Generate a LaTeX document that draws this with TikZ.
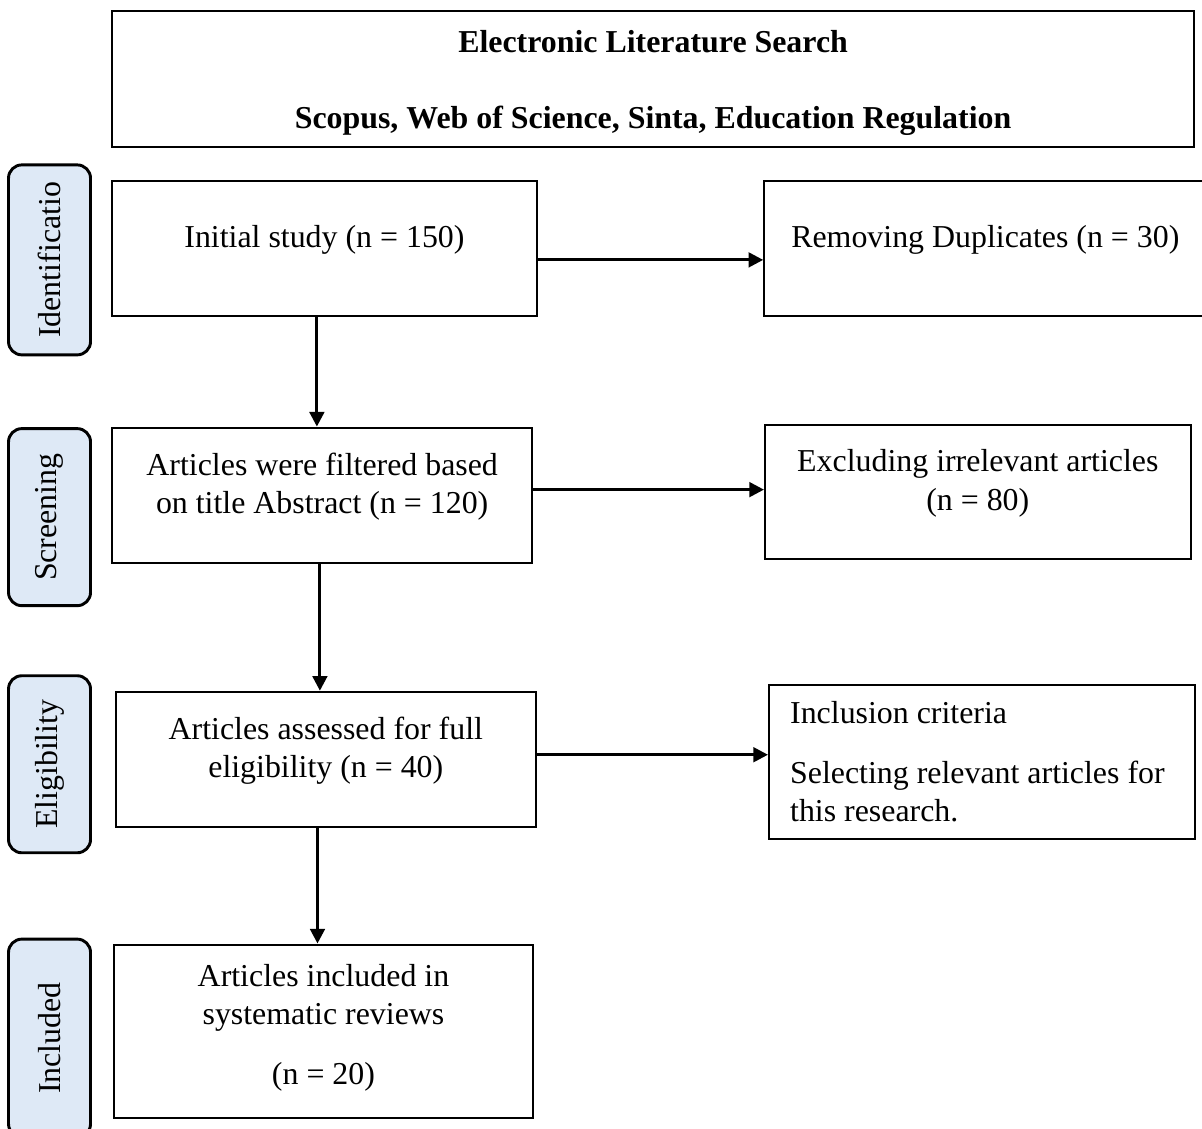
\documentclass[tikz,border=0pt]{standalone}
\usepackage{fontspec}
\setmainfont{Liberation Serif}
\usetikzlibrary{arrows.meta, positioning}

\definecolor{stagefill}{RGB}{222,233,246}

\begin{document}
\begin{tikzpicture}[
    every node/.style={
            rectangle,
            draw,
            line width=0.8pt,
            font=\fontsize{12}{14.6}\selectfont,
            align=center,
            inner sep=0pt
        },
    arrow/.style={-{Triangle[length=5.5pt, width=5.5pt]}, line width=1.1pt},
    step_block/.style={minimum width=5.6cm, minimum height=1.786cm, text depth=9pt},
    note_block/.style={minimum height=1.786cm, text depth=9pt},
    stage_label/.style={
            fill=stagefill,
            rounded corners=5pt,
            line width=1.1pt,
            minimum width=2.4cm,
            minimum height=1.085cm
        },
    ]
    \useasboundingbox (0,0) rectangle (15.901,-14.935);

    % --- Search ---
    \node (search) [anchor=north west, minimum width=14.315cm, minimum height=1.799cm, text depth=0pt]
        at (1.468,-0.132) {\textbf{Electronic Literature Search}\\[14pt]\textbf{Scopus, Web of Science, Sinta, Education Regulation}};

    % --- Main column ---
    \node (initial) [step_block, minimum width=5.62cm, below=0.42cm of search.south west, anchor=north west] {Initial study (n = 150)};
    \node (screened) [step_block, minimum width=5.56cm, below=1.45cm of initial.south west, anchor=north west] {Articles were filtered based\\on title Abstract (n = 120)};
    \node (assessed) [step_block, minimum width=5.55cm, below=1.68cm of screened.south west, anchor=north west, xshift=0.053cm] {Articles assessed for full\\eligibility (n = 40)};
    \node (included) [minimum width=5.54cm, minimum height=2.29cm, text depth=5pt, below=1.53cm of assessed.south west, anchor=north west, xshift=-0.026cm] {Articles included in\\systematic reviews\\[8pt](n = 20)};

    % --- Right column ---
    \node (duplicates) [note_block, minimum width=5.85cm, right=2.98cm of initial.north east, anchor=north west] {Removing Duplicates (n = 30)};
    \node (irrelevant) [note_block, minimum width=5.63cm, minimum height=1.773cm, right=3.05cm of screened.north east, anchor=north west, yshift=0.04cm] {Excluding irrelevant articles\\(n = 80)};
    \node (criteria) [minimum width=5.63cm, minimum height=2.037cm, text width=5.63cm-0.56cm, inner xsep=0.28cm, align=flush left, right=3.06cm of assessed.north east, anchor=north west, yshift=0.093cm] {Inclusion criteria\\[8pt]Selecting relevant articles for this research.};

    % --- Stage labels ---
    \node (identification) [stage_label, minimum width=2.513cm, left=0.251cm of initial, yshift=-0.152cm, rotate=90, anchor=south] {Identificatio};
    \node (screening) [stage_label, minimum width=2.342cm, left=0.251cm of screened, yshift=-0.291cm, rotate=90, anchor=south] {Screening};
    \node (eligibility) [stage_label, minimum width=2.342cm, left=0.304cm of assessed, yshift=-0.066cm, rotate=90, anchor=south] {Eligibility};
    \node (inclusion) [stage_label, minimum width=2.62cm, left=0.278cm of included, yshift=-0.093cm, rotate=90, anchor=south] {Included};

    % --- Arrows ---
    \draw[arrow] ([yshift=-0.152cm]initial.east) -- ([yshift=-0.152cm]initial.east -| duplicates.west);
    \draw[arrow] ([yshift=0.073cm]screened.east) -- ([yshift=0.073cm]screened.east -| irrelevant.west);
    \draw[arrow] ([yshift=0.06cm]assessed.east) -- ([yshift=0.06cm]assessed.east -| criteria.west);
    \draw[arrow] ([xshift=-0.1cm]initial.south) -- ([xshift=-0.1cm]initial.south |- screened.north);
    \draw[arrow] ([xshift=-0.03cm]screened.south) -- ([xshift=-0.03cm]screened.south |- assessed.north);
    \draw[arrow] ([xshift=-0.11cm]assessed.south) -- ([xshift=-0.11cm]assessed.south |- included.north);

\end{tikzpicture}
\end{document}
